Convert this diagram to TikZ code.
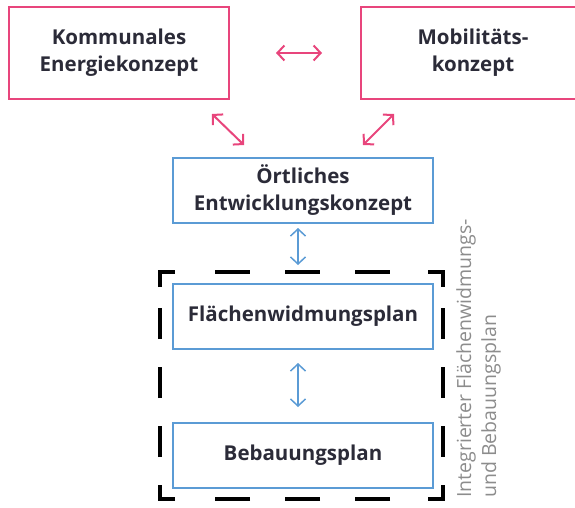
\documentclass[tikz,border=0pt]{standalone}
\usepackage{fontspec}
\setmainfont{Open Sans}
\usepackage{tikz}
\usetikzlibrary{arrows.meta}
\definecolor{konzpink}{HTML}{E8457C}
\definecolor{planblau}{HTML}{5B9BD5}
\definecolor{schrift}{HTML}{2B2B38}
\definecolor{seitengrau}{HTML}{8C8C8C}

\begin{document}
\begin{tikzpicture}[x=1pt,y=-1pt,
	box/.style={draw,line width=2pt,inner sep=0pt,align=center,text=schrift,
		font=\fontsize{20.5}{27}\selectfont\bfseries},
	pinkbox/.style={box,draw=konzpink,minimum width=220pt,minimum height=92pt},
	blaubox/.style={box,draw=planblau,minimum width=260pt,minimum height=65pt},
	pinkpfeil/.style={konzpink,line width=2pt,{Straight Barb[length=7pt,width=15pt]}-{Straight Barb[length=7pt,width=15pt]}},
	blaupfeil/.style={planblau,line width=1.5pt,{Straight Barb[length=7pt,width=15pt]}-{Straight Barb[length=7pt,width=15pt]}}]
	\useasboundingbox (0,0) rectangle (575,508);
	\node[pinkbox] (kom) at (119,53) {Kommunales\\Energiekonzept};
	\node[pinkbox,minimum width=224pt] (mob) at (473,53) {Mobilitäts-\\konzept};
	\node[blaubox] (ort) at (303,190.5) {Örtliches\\Entwicklungskonzept};
	\node[blaubox] (fwp) at (303,316.5) {Flächenwidmungsplan};
	\node[blaubox] (bbp) at (303,455.5) {Bebauungsplan};
	% gestrichelter Rahmen
	\draw[line width=4pt,dash pattern=on 35pt off 35pt on 35pt off 35pt on 35pt off 38pt on 30pt off 21pt
		on 31pt off 28pt on 31pt off 28pt on 31pt off 28pt on 29pt off 38pt on 35pt off 35pt on 35pt off 35pt
		on 35pt off 40pt on 29pt off 28pt on 31pt off 28pt on 31pt off 28pt on 31pt off 21pt on 30pt off 40pt]
		(215,272) -- (443,272) -- (443,499) -- (160,499) -- (160,272) -- cycle;
	\node[rotate=90,anchor=north west,inner sep=0pt,align=left,text=seitengrau,
		font=\fontsize{19.5}{25}\selectfont] (ifb) at (456,498) {Integrierter Flächenwidmungs-\\und Bebauungsplan};
	% Pfeile
	\draw[pinkpfeil,shorten <=46pt,shorten >=38pt] (kom.east) -- (mob.west);
	\draw[pinkpfeil] ([xshift=-18pt,yshift=-14pt]kom.south east) -- ([xshift=72pt,yshift=12pt]ort.north west);
	\draw[pinkpfeil] ([xshift=34pt,yshift=-14pt]mob.south west) -- ([xshift=-71pt,yshift=12pt]ort.north east);
	\draw[blaupfeil,shorten <=4pt,shorten >=18pt] ([xshift=-5pt]ort.south) -- ([xshift=-5pt]fwp.north);
	\draw[blaupfeil,shorten <=13pt,shorten >=15pt] ([xshift=-5pt]fwp.south) -- ([xshift=-5pt]bbp.north);
\end{tikzpicture}
\end{document}
